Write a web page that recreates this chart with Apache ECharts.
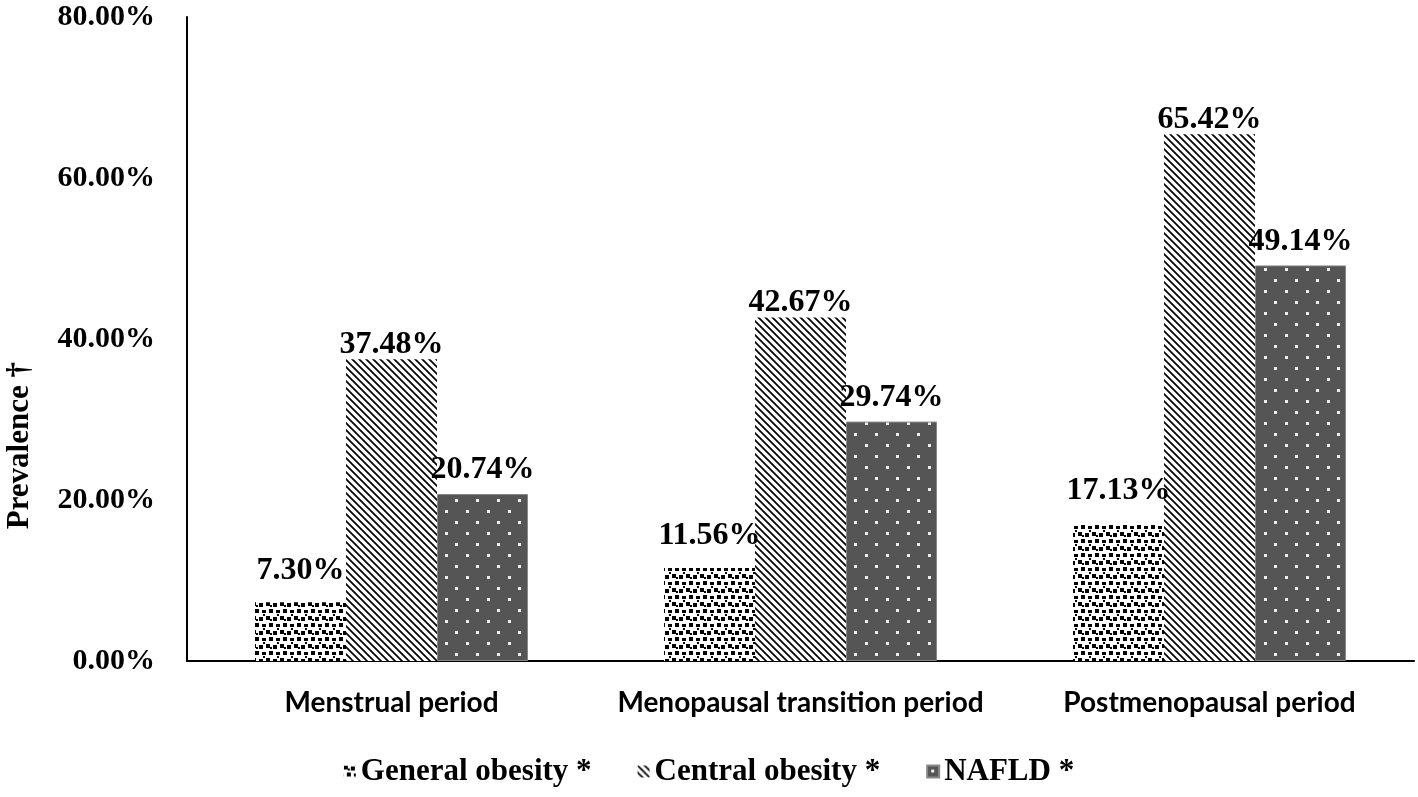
<!DOCTYPE html>
<html><head><meta charset="utf-8">
<script src="https://cdn.jsdelivr.net/npm/echarts@6/dist/echarts.min.js"></script>
<style>html,body{margin:0;padding:0;background:#fff}#c{width:1418px;height:797px}</style>
</head><body><div id="c"></div>
<script>
const categories = ['Menstrual period', 'Menopausal transition period', 'Postmenopausal period'];
const seriesNames = ['General obesity *', 'Central obesity *', 'NAFLD *'];
const generalObesity = [7.30, 11.56, 17.13];
const centralObesity = [37.48, 42.67, 65.42];
const nafld = [20.74, 29.74, 49.14];
const yTicks = [0, 20, 40, 60, 80];

function makeCanvas(w, h, draw) {
  const c = document.createElement('canvas');
  c.width = w; c.height = h;
  draw(c.getContext('2d'));
  return c;
}
const patGeneral = makeCanvas(14, 14, g => {
  g.fillStyle = '#fff'; g.fillRect(0, 0, 14, 14);
  g.fillStyle = '#000';
  g.fillRect(0, 0, 4, 4); g.fillRect(7, 1, 4, 4);
  g.fillRect(3, 7, 4, 4); g.fillRect(10, 8, 4, 3);
  g.fillRect(4, 3, 2, 2); g.fillRect(11, 12, 2, 2);
});
const patCentral = makeCanvas(7, 7, g => {
  g.fillStyle = '#fff'; g.fillRect(0, 0, 7, 7);
  g.strokeStyle = '#000'; g.lineWidth = 1.7;
  g.beginPath();
  g.moveTo(-1, -1); g.lineTo(8, 8);
  g.moveTo(-1, 6); g.lineTo(1, 8);
  g.moveTo(6, -1); g.lineTo(8, 1);
  g.stroke();
});
const patNafld = makeCanvas(21, 22, g => {
  g.fillStyle = '#555'; g.fillRect(0, 0, 21, 22);
  g.fillStyle = '#eee';
  g.fillRect(4, 4, 3, 3);
  g.fillRect(14, 15, 3, 3);
});

const labelBase = {
  show: true, position: 'top', color: '#000',
  fontFamily: 'Liberation Serif', fontWeight: 'bold', fontSize: 32,
  formatter: p => p.value.toFixed(2) + '%'
};

const chart = echarts.init(document.getElementById('c'));
chart.setOption({
  animation: false,
  backgroundColor: '#fff',
  grid: { left: 187, right: 4, top: 17, bottom: 136 },
  legend: {
    bottom: 5, left: 'center', itemGap: 46, itemWidth: 12, itemHeight: 12,
    icon: 'rect',
    textStyle: { fontFamily: 'Liberation Serif', fontWeight: 'bold', fontSize: 31, color: '#000' },
    data: seriesNames
  },
  xAxis: {
    type: 'category', data: categories,
    axisLine: { lineStyle: { color: '#000', width: 2 } },
    axisTick: { show: false },
    axisLabel: { interval: 0, hideOverlap: false, fontFamily: 'Lato', fontWeight: 'bold', fontSize: 28, color: '#000', margin: 28 }
  },
  yAxis: {
    type: 'value', min: 0, max: 80, interval: 20,
    axisLine: { show: true, lineStyle: { color: '#000', width: 2 } },
    axisTick: { show: false },
    splitLine: { show: false },
    axisLabel: {
      fontFamily: 'Liberation Serif', fontWeight: 'bold', fontSize: 30, color: '#000', margin: 32,
      customValues: yTicks,
      formatter: v => v.toFixed(2) + '%'
    }
  },
  graphic: [{
    type: 'text', left: 4, top: 362, rotation: Math.PI / 2,
    style: { text: 'Prevalence †', fontFamily: 'Liberation Serif', fontWeight: 'bold', fontSize: 31, fill: '#000' }
  }],
  series: [
    { name: seriesNames[0], type: 'bar', data: generalObesity, barWidth: 91, barGap: '0%',
      itemStyle: { color: { image: patGeneral, repeat: 'repeat' } },
      label: Object.assign({}, labelBase, { distance: 16 }) },
    { name: seriesNames[1], type: 'bar', data: centralObesity, barWidth: 91, barGap: '0%',
      itemStyle: { color: { image: patCentral, repeat: 'repeat' } },
      label: Object.assign({}, labelBase, { distance: -1 }) },
    { name: seriesNames[2], type: 'bar', data: nafld, barWidth: 91, barGap: '0%',
      itemStyle: { color: { image: patNafld, repeat: 'repeat' }, borderColor: '#888', borderWidth: 1 },
      label: Object.assign({}, labelBase, { distance: 8 }) }
  ]
});
</script></body></html>
